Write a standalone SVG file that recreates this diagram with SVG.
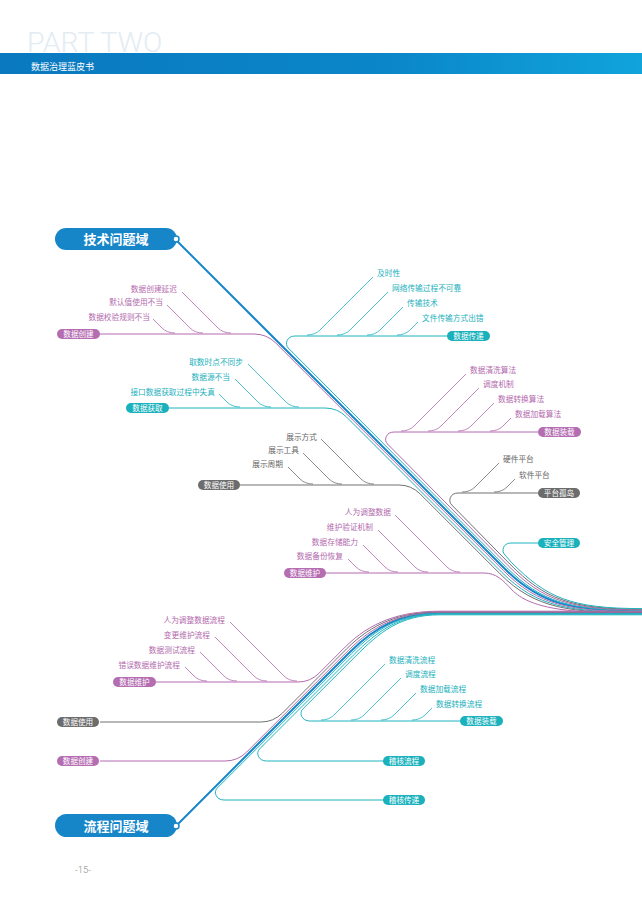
<svg xmlns="http://www.w3.org/2000/svg" width="642" height="907" viewBox="0 0 642 907">
<defs>
<linearGradient id="band" x1="0" y1="0" x2="1" y2="0">
<stop offset="0" stop-color="#0a79bf"/>
<stop offset="0.6" stop-color="#0b86c9"/>
<stop offset="1" stop-color="#10a4db"/>
</linearGradient>
</defs>
<style>
.c{font-family:"Noto Sans CJK SC","Noto Sans",sans-serif}
.lf{font-size:7.7px}
.pt{font-size:7.6px;fill:#fff;text-anchor:middle}
.dm{font-size:13px;font-weight:bold;fill:#fff;text-anchor:middle}
.tm{fill:#b36aae}.tt{fill:#1bb0bd}.tg{fill:#666}
.e{text-anchor:end}
path{fill:none}
.b{stroke:#1786c9;stroke-width:2}
.m{stroke:#b36aae;stroke-width:1}
.t{stroke:#1fb3bf;stroke-width:1}
.g{stroke:#707070;stroke-width:1}
.lfl path{stroke-width:0.8}
.pm{fill:#b56db2}.ptl{fill:#1ab1bc}.pg{fill:#6c6c6c}
</style>
<rect width="642" height="907" fill="#fff"/>
<g id="header">
<text x="27" y="52" font-family="Roboto,'Open Sans',sans-serif" font-weight="300" font-size="28.5" fill="#e3ecf3">PART TWO</text>
<rect x="0" y="53" width="642" height="21" fill="url(#band)"/>
<text x="31" y="70" class="c" font-size="9" fill="#fff">数据治理蓝皮书</text>
</g>

<g id="connectors">
<!-- top bundle -->
<path class="b" d="M176,240 L505,569 C540,604 570,611 642,611"/>
<path class="m" d="M100,334 H254 Q266.75,334 275.75,343 L503.4,570.6 C538.4,605.6 570,611.6 642,611.6"/>
<path class="t" d="M169,408 H325 Q337.5,408 346.5,417 L501.8,572.3 C536.8,607.3 570,612.2 642,612.2"/>
<path class="g" d="M240,485 H399 Q411.25,485 420.25,494 L500.1,573.9 C535.1,608.9 570,612.8 642,612.8"/>
<path class="m" d="M326,573 H484 C496,573 503,580 512,590 C530,608 565,613.4 642,613.4"/>
<path class="t" d="M447,336 H295 C287,336 284.25,344 288.25,348 L506.6,567.4 C541.6,602.4 570,610.4 642,610.4"/>
<path class="m" d="M538,432 H394 C386,432 383.5,440 387.5,444 L508.2,565.7 C543.2,600.7 570,609.8 642,609.8"/>
<path class="g" d="M538,493 H458 C450,493 447.75,501 451.75,505 L509.9,564.1 C544.9,599.1 570,609.2 642,609.2"/>
<path class="t" d="M538,543 H511 C503,543 501,551 505,555 L511.5,562.5 C546.5,597.5 570,608.6 642,608.6"/>
<!-- bottom bundle -->
<path class="b" d="M176,826 L350,652 C375,627 400,613 440,613 L642,613"/>
<path class="m" d="M100,761 H225 Q237.75,761 246.75,752 L348.4,650.4 C373.4,625.4 400,612.4 440,612.4 L642,612.4"/>
<path class="g" d="M100,722 H261 Q273.5,722 282.5,713 L346.8,648.7 C371.8,623.7 400,611.8 440,611.8 L642,611.8"/>
<path class="m" d="M156,682 H298 Q310.25,682 319.25,673 L345.1,647.1 C370.1,622.1 400,611.2 440,611.2 L642,611.2"/>
<path class="t" d="M384,800 H224 C216,800 213.25,792 217.25,788 L351.6,653.6 C376.6,628.6 400,613.6 440,613.6 L642,613.6"/>
<path class="t" d="M384,761 H266.5 C258.5,761 255.5,753 259.5,749 L353.2,655.3 C378.2,630.3 400,614.2 440,614.2 L642,614.2"/>
<path class="t" d="M461,721 H309.75 C301.75,721 298.75,713 302.75,709 L354.9,656.9 C379.9,631.9 400,614.8 440,614.8 L642,614.8"/>
<!-- leaf lines -->
<g class="lfl">
<path class="m" d="M182,292 L218,328 Q223,333 231,333"/>
<path class="m" d="M167,305 L190,328 Q195,333 203,333"/>
<path class="m" d="M153,319 L162,328 Q167,333 175,333"/>
<path class="t" d="M373,277 L320,330 Q315,335 307,335"/>
<path class="t" d="M388,292 L350,330 Q345,335 337,335"/>
<path class="t" d="M403,307 L380,330 Q375,335 367,335"/>
<path class="t" d="M418,322 L410,330 Q405,335 397,335"/>
<path class="t" d="M248,364 L286,402 Q291,407 299,407"/>
<path class="t" d="M235,379 L258,402 Q263,407 271,407"/>
<path class="t" d="M219,394 L227,402 Q232,407 240,407"/>
<path class="m" d="M466,374 L414,426 Q409,431 401,431"/>
<path class="m" d="M479,388 L441,426 Q436,431 428,431"/>
<path class="m" d="M494,403 L471,426 Q466,431 458,431"/>
<path class="m" d="M511,418 L503,426 Q498,431 490,431"/>
<path class="g" d="M321,439 L361,479 Q366,484 374,484"/>
<path class="g" d="M303,453 L329,479 Q334,484 342,484"/>
<path class="g" d="M288,467 L300,479 Q305,484 313,484"/>
<path class="g" d="M499,463 L475,487 Q470,492 462,492"/>
<path class="g" d="M515,479 L507,487 Q502,492 494,492"/>
<path class="m" d="M395,515 L447,567 Q452,572 460,572"/>
<path class="m" d="M378,530 L415,567 Q420,572 428,572"/>
<path class="m" d="M363,545 L385,567 Q390,572 398,572"/>
<path class="m" d="M348,559 L356,567 Q361,572 369,572"/>
<path class="m" d="M230,622 L284,676 Q289,681 297,681"/>
<path class="m" d="M215,637 L254,676 Q259,681 267,681"/>
<path class="m" d="M200,652 L224,676 Q229,681 237,681"/>
<path class="m" d="M185,667 L194,676 Q199,681 207,681"/>
<path class="t" d="M385,664 L334,715 Q329,720 321,720"/>
<path class="t" d="M401,678 L364,715 Q359,720 351,720"/>
<path class="t" d="M416,693 L394,715 Q389,720 381,720"/>
<path class="t" d="M432,708 L425,715 Q420,720 412,720"/>
</g>
</g>

<g id="tech-domain">
<rect x="55" y="228" width="122" height="22" rx="11" fill="#1786c9"/>
<text x="116" y="244" class="c dm">技术问题域</text>
<circle cx="176" cy="239" r="3" fill="#fff" stroke="#1786c9" stroke-width="1.5"/>
</g>
<g id="flow-domain">
<rect x="55" y="814" width="122" height="23" rx="11.5" fill="#1786c9"/>
<text x="116" y="831" class="c dm">流程问题域</text>
<circle cx="176" cy="826" r="3" fill="#fff" stroke="#1786c9" stroke-width="1.5"/>
</g>

<g id="t-create">
<rect x="57" y="329" width="43" height="10" rx="5" class="pm"/>
<text x="78.5" y="337" class="c pt">数据创建</text>
<text x="177" y="292" class="c lf tm e">数据创建延迟</text>
<text x="163" y="305" class="c lf tm e">默认值使用不当</text>
<text x="150" y="320" class="c lf tm e">数据校验规则不当</text>
</g>
<g id="t-transfer">
<rect x="447" y="331" width="43" height="10" rx="5" class="ptl"/>
<text x="468.5" y="339" class="c pt">数据传递</text>
<text x="377" y="276" class="c lf tt">及时性</text>
<text x="392" y="291" class="c lf tt">网络传输过程不可靠</text>
<text x="407" y="306" class="c lf tt">传输技术</text>
<text x="422" y="321" class="c lf tt">文件传输方式出错</text>
</g>
<g id="t-acquire">
<rect x="126" y="403" width="43" height="10" rx="5" class="ptl"/>
<text x="147.5" y="411" class="c pt">数据获取</text>
<text x="243" y="365" class="c lf tt e">取数时点不同步</text>
<text x="230" y="380" class="c lf tt e">数据源不当</text>
<text x="215" y="395" class="c lf tt e">接口数据获取过程中失真</text>
</g>
<g id="t-load">
<rect x="538" y="427" width="43" height="10" rx="5" class="pm"/>
<text x="559.5" y="435" class="c pt">数据装载</text>
<text x="470" y="373" class="c lf tm">数据清洗算法</text>
<text x="483" y="387" class="c lf tm">调度机制</text>
<text x="498" y="402" class="c lf tm">数据转换算法</text>
<text x="515" y="417" class="c lf tm">数据加载算法</text>
</g>
<g id="t-use">
<rect x="198" y="480" width="42" height="10" rx="5" class="pg"/>
<text x="219" y="488" class="c pt">数据使用</text>
<text x="317" y="440" class="c lf tg e">展示方式</text>
<text x="299" y="453" class="c lf tg e">展示工具</text>
<text x="283" y="467" class="c lf tg e">展示周期</text>
</g>
<g id="t-platform">
<rect x="538" y="488" width="42" height="10" rx="5" class="pg"/>
<text x="559" y="496" class="c pt">平台孤岛</text>
<text x="503" y="462" class="c lf tg">硬件平台</text>
<text x="519" y="478" class="c lf tg">软件平台</text>
</g>
<g id="t-security">
<rect x="538" y="538" width="42" height="10" rx="5" class="ptl"/>
<text x="559" y="546" class="c pt">安全管理</text>
</g>
<g id="t-maintain">
<rect x="284" y="568" width="42" height="10" rx="5" class="pm"/>
<text x="305" y="576" class="c pt">数据维护</text>
<text x="391" y="515" class="c lf tm e">人为调整数据</text>
<text x="373" y="530" class="c lf tm e">维护验证机制</text>
<text x="358" y="545" class="c lf tm e">数据存储能力</text>
<text x="343" y="559" class="c lf tm e">数据备份恢复</text>
</g>

<g id="f-maintain">
<rect x="113" y="677" width="43" height="10" rx="5" class="pm"/>
<text x="134.5" y="685" class="c pt">数据维护</text>
<text x="225" y="623" class="c lf tm e">人为调整数据流程</text>
<text x="210" y="638" class="c lf tm e">变更维护流程</text>
<text x="195" y="653" class="c lf tm e">数据测试流程</text>
<text x="180" y="668" class="c lf tm e">错误数据维护流程</text>
</g>
<g id="f-load">
<rect x="460" y="716" width="43" height="10" rx="5" class="ptl"/>
<text x="481.5" y="724" class="c pt">数据装载</text>
<text x="389" y="663" class="c lf tt">数据清洗流程</text>
<text x="405" y="677" class="c lf tt">调度流程</text>
<text x="420" y="692" class="c lf tt">数据加载流程</text>
<text x="436" y="707" class="c lf tt">数据转换流程</text>
</g>
<g id="f-use">
<rect x="57" y="717" width="42" height="10" rx="5" class="pg"/>
<text x="78" y="725" class="c pt">数据使用</text>
</g>
<g id="f-create">
<rect x="57" y="756" width="42" height="10" rx="5" class="pm"/>
<text x="78" y="764" class="c pt">数据创建</text>
</g>
<g id="f-audit">
<rect x="383" y="756" width="42" height="10" rx="5" class="ptl"/>
<text x="404" y="764" class="c pt">稽核流程</text>
</g>
<g id="f-audit-transfer">
<rect x="383" y="795" width="42" height="10" rx="5" class="ptl"/>
<text x="404" y="803" class="c pt">稽核传递</text>
</g>
<text x="75" y="873" font-family="Roboto,'Liberation Sans',sans-serif" font-weight="300" font-size="9.5" fill="#8a8a8a">-15-</text>
</svg>
